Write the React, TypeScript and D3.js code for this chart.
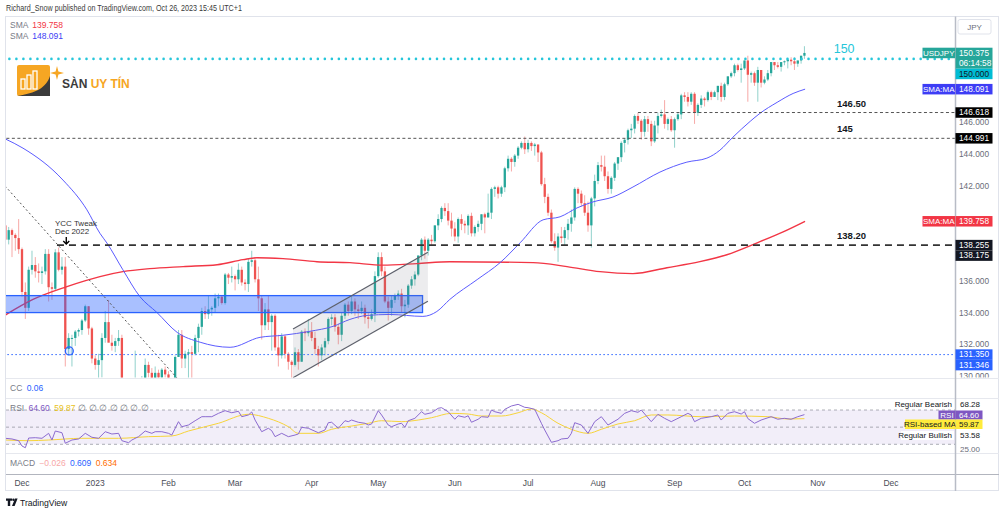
import React from "react";
import * as d3 from "d3";

// ---------- DATA ----------
// bar index 0 = 1 Dec 2022 (weekday bars); first candle = 24 Nov 2022
const FIRST_BAR = -5;

const opens = [
  139.5, 138.6, 139.2, 138.9, 138.7,
  138.0, 135.3, 134.3, 136.7, 137.0, 136.6, 136.5, 136.6, 137.7, 135.6, 135.5, 137.8, 136.7, 136.9, 131.7, 132.4, 132.4, 132.8, 132.9, 133.5, 134.4, 133.0,
  131.1, 130.7, 131.0, 132.4, 133.4, 132.1, 131.9, 132.2, 132.4, 129.2, 127.9, 128.5, 128.1, 128.9, 128.4, 129.6, 130.7, 130.2, 129.2, 130.2, 129.9, 130.4,
  130.1, 128.9, 128.6, 131.2, 132.6, 131.1, 131.4, 131.5, 131.4, 132.4, 133.1, 134.1, 133.9, 134.2, 134.3, 134.9, 135.0, 134.6, 136.4, 136.2,
  136.3, 136.1, 136.7, 135.9, 135.8, 137.2, 137.3, 136.1, 134.9, 133.2, 134.2, 133.4, 133.8, 131.8, 131.3, 132.5, 131.4, 130.9, 130.7, 131.5, 130.9, 132.8, 132.7,
  132.8, 132.4, 131.7, 131.3, 131.8, 132.2, 133.6, 133.7, 133.1, 132.6, 133.8, 134.5, 134.1, 134.7, 134.2, 134.1, 134.3, 133.7, 133.6, 133.9,
  136.3, 137.5, 136.6, 134.7, 134.3, 134.8, 135.1, 135.2, 134.4, 134.5, 135.7, 136.1, 136.4, 137.6, 138.6, 137.9, 138.6, 138.5, 139.5, 139.9, 140.6, 140.4, 139.8,
  139.3, 138.8, 139.9, 139.6, 139.5, 140.1, 139.0, 139.4, 139.6, 140.2, 140.0, 140.3, 141.8, 141.9, 141.5, 141.9, 143.1, 143.7, 143.5, 143.9, 144.4, 144.7,
  144.3, 144.7, 144.5, 144.6, 144.1, 142.1, 141.3, 140.3, 138.5, 138.1, 138.8, 138.7, 139.2, 139.6, 140.0, 141.8, 141.5, 140.9, 140.3, 139.5, 141.2,
  142.3, 143.3, 143.2, 142.6, 141.8, 142.5, 143.4, 143.8, 144.7, 144.9, 145.5, 145.6, 146.4, 146.1, 145.4, 146.2, 145.9, 144.8, 145.8, 146.4, 146.5, 145.9, 146.2,
  145.5, 146.2, 146.5, 147.7, 147.6, 147.3, 147.8, 146.6, 147.1, 147.5, 147.4, 147.9, 147.6, 147.9, 148.3, 147.6, 148.4, 148.9, 149.1, 149.6, 149.3,
  149.4, 149.9, 149.0, 149.1, 148.5, 149.3, 148.5, 148.7, 149.1, 149.8, 149.6, 149.5, 149.8, 149.85, 149.95, 149.85, 149.7, 149.9, 150.2,
];
const highs = [
  139.6, 139.4, 139.3, 139.0, 139.9,
  138.1, 135.9, 136.9, 137.9, 137.5, 137.1, 136.9, 138.0, 138.0, 135.9, 138.0, 138.1, 137.5, 137.5, 132.7, 132.6, 132.9, 133.0, 133.6, 134.5, 134.4, 133.1,
  131.3, 131.4, 132.7, 134.1, 134.8, 132.6, 132.4, 132.9, 132.6, 129.6, 128.9, 129.0, 131.6, 129.0, 130.0, 131.1, 130.9, 130.5, 130.6, 130.4, 130.5, 130.6,
  130.3, 129.0, 131.3, 132.9, 132.9, 131.6, 131.7, 131.9, 132.6, 133.3, 134.3, 134.4, 135.1, 134.4, 135.2, 135.2, 135.1, 136.5, 136.5, 136.9,
  136.4, 137.1, 136.9, 136.1, 137.4, 137.9, 137.5, 136.9, 135.1, 134.6, 135.1, 133.9, 133.9, 132.6, 132.7, 132.6, 131.5, 131.0, 131.8, 131.7, 132.9, 133.0, 133.6,
  133.4, 132.8, 131.9, 132.0, 132.4, 133.7, 133.9, 133.9, 133.3, 134.0, 134.6, 134.7, 135.1, 134.9, 134.5, 134.7, 134.5, 134.0, 134.2, 136.6,
  137.8, 137.8, 136.9, 135.0, 135.1, 135.2, 135.4, 135.5, 134.8, 135.8, 136.3, 136.6, 137.6, 138.7, 138.8, 138.7, 138.9, 139.5, 140.2, 140.7, 140.9, 140.9, 140.3,
  139.7, 140.0, 140.2, 139.8, 140.2, 140.3, 139.5, 139.8, 140.2, 140.3, 141.5, 141.9, 142.0, 142.0, 142.0, 143.2, 143.9, 143.8, 144.0, 144.5, 144.8, 145.1,
  144.9, 144.8, 144.7, 144.6, 144.2, 142.5, 141.5, 140.5, 139.0, 139.0, 139.4, 139.4, 139.9, 140.5, 141.9, 141.9, 141.7, 141.4, 141.0, 141.3, 142.7,
  143.5, 143.9, 143.9, 142.9, 142.6, 143.5, 143.8, 144.8, 145.0, 145.6, 145.9, 146.5, 146.6, 146.2, 146.4, 146.4, 146.1, 146.1, 146.6, 146.8, 147.4, 146.3, 146.4,
  146.3, 146.6, 147.8, 147.9, 147.9, 147.9, 147.9, 147.2, 147.7, 147.6, 148.0, 148.0, 148.0, 148.3, 148.5, 148.5, 148.9, 149.2, 149.7, 149.7, 149.7,
  149.9, 150.2, 149.2, 149.2, 149.5, 149.3, 148.9, 149.3, 149.8, 149.8, 149.8, 149.8, 149.9, 150.0, 150.1, 150.1, 149.9, 150.2, 150.8,
];
const lows = [
  138.0, 138.3, 137.5, 137.9, 137.7,
  135.0, 133.6, 134.1, 136.4, 136.2, 135.9, 135.8, 136.4, 134.7, 134.8, 135.4, 136.6, 136.4, 130.6, 131.3, 130.6, 131.9, 132.5, 132.6, 133.4, 132.6, 130.8,
  130.4, 129.5, 129.9, 132.1, 132.3, 131.6, 131.5, 131.9, 128.9, 127.5, 127.2, 127.9, 127.8, 127.6, 128.0, 129.3, 129.9, 129.2, 129.0, 129.6, 129.6, 129.9,
  128.6, 128.1, 128.2, 131.2, 130.5, 130.5, 129.8, 129.8, 131.3, 131.5, 132.6, 133.6, 133.6, 133.8, 134.0, 134.4, 134.5, 134.5, 135.8, 135.9,
  135.4, 135.8, 135.7, 135.4, 135.3, 136.9, 135.9, 134.1, 132.3, 132.9, 132.9, 131.6, 131.6, 130.6, 131.1, 131.1, 130.4, 129.6, 130.6, 130.4, 130.9, 132.2, 132.5,
  132.2, 131.4, 130.6, 131.0, 131.3, 132.0, 133.2, 132.8, 132.0, 132.2, 133.6, 133.8, 133.9, 133.8, 133.6, 133.9, 133.3, 133.0, 133.5, 133.4,
  136.2, 136.3, 134.6, 133.5, 133.8, 134.6, 134.8, 134.0, 133.7, 134.3, 135.5, 135.7, 136.3, 137.3, 137.4, 137.6, 138.2, 138.4, 139.2, 139.7, 140.1, 139.5, 138.8,
  138.5, 138.4, 139.2, 139.0, 138.9, 138.8, 138.8, 139.1, 139.2, 139.0, 140.0, 139.9, 141.3, 141.2, 141.3, 141.6, 142.9, 142.9, 143.2, 143.7, 144.3, 144.0,
  144.1, 144.2, 143.9, 143.5, 142.0, 140.9, 140.1, 138.4, 137.9, 137.2, 138.4, 138.2, 138.6, 139.1, 139.8, 140.9, 140.7, 140.1, 139.1, 138.1, 140.7,
  142.1, 142.9, 142.3, 141.5, 141.5, 142.3, 143.0, 143.5, 144.1, 144.6, 145.0, 145.3, 145.9, 144.9, 145.1, 145.4, 144.5, 144.7, 145.3, 146.3, 145.6, 145.5, 145.4,
  144.4, 146.1, 146.2, 147.3, 147.0, 147.1, 145.9, 146.4, 146.9, 147.0, 147.3, 147.4, 147.6, 147.4, 147.3, 147.4, 148.3, 148.8, 148.9, 149.2, 148.5,
  149.3, 147.3, 148.5, 148.3, 147.3, 148.2, 148.4, 148.6, 148.9, 149.3, 149.4, 149.2, 149.6, 149.4, 149.6, 149.3, 149.5, 149.7, 150.0,
];
const closes = [
  138.6, 139.2, 138.9, 138.7, 138.0,
  135.3, 134.3, 136.7, 137.0, 136.6, 136.5, 136.6, 137.7, 135.6, 135.5, 137.8, 136.7, 136.9, 131.7, 132.4, 132.4, 132.8, 132.9, 133.5, 134.4, 133.0, 131.1,
  130.7, 131.0, 132.4, 133.4, 132.1, 131.9, 132.2, 132.4, 129.2, 127.9, 128.5, 128.1, 128.9, 128.4, 129.6, 130.7, 130.2, 129.2, 130.2, 129.9, 130.4, 130.1,
  128.9, 128.6, 131.2, 132.6, 131.1, 131.4, 131.5, 131.4, 132.4, 133.1, 134.1, 133.9, 134.2, 134.3, 134.9, 135.0, 134.6, 136.4, 136.2, 136.3,
  136.1, 136.7, 135.9, 135.8, 137.2, 137.3, 136.1, 134.9, 133.2, 134.2, 133.4, 133.8, 131.8, 131.3, 132.5, 131.4, 130.9, 130.7, 131.5, 130.9, 132.8, 132.7, 132.8,
  132.4, 131.7, 131.3, 131.8, 132.2, 133.6, 133.7, 133.1, 132.6, 133.8, 134.5, 134.1, 134.7, 134.2, 134.1, 134.3, 133.7, 133.6, 133.9, 136.3,
  137.5, 136.6, 134.7, 134.3, 134.8, 135.1, 135.2, 134.4, 134.5, 135.7, 136.1, 136.4, 137.6, 138.6, 137.9, 138.6, 138.5, 139.5, 139.9, 140.6, 140.4, 139.8, 139.3,
  138.8, 139.9, 139.6, 139.5, 140.1, 139.0, 139.4, 139.6, 140.2, 140.0, 140.3, 141.8, 141.9, 141.5, 141.9, 143.1, 143.7, 143.5, 143.9, 144.4, 144.7, 144.3,
  144.7, 144.5, 144.6, 144.1, 142.1, 141.3, 140.3, 138.5, 138.1, 138.8, 138.7, 139.2, 139.6, 140.0, 141.8, 141.5, 140.9, 140.3, 139.5, 141.2, 142.3,
  143.3, 143.2, 142.6, 141.8, 142.5, 143.4, 143.8, 144.7, 144.9, 145.5, 145.6, 146.4, 146.1, 145.4, 146.2, 145.9, 144.8, 145.8, 146.4, 146.5, 145.9, 146.2, 145.5,
  146.2, 146.5, 147.7, 147.6, 147.3, 147.8, 146.6, 147.1, 147.5, 147.4, 147.9, 147.6, 147.9, 148.3, 147.6, 148.4, 148.9, 149.1, 149.6, 149.3, 149.4,
  149.9, 149.0, 149.1, 148.5, 149.3, 148.5, 148.7, 149.1, 149.8, 149.6, 149.5, 149.8, 149.85, 149.95, 149.85, 149.7, 149.9, 150.2, 150.375,
];

// SMA 50 (blue): [bar, price]
const sma50: [number, number][] = [
  [-5, 144.95], [0.3, 144.37], [12.3, 142.36], [19.5, 140.48], [23.4, 139.0], [25.5, 138.39], [30.3, 136.7], [35.4, 135.01],
  [40.5, 134.01], [46.6, 132.75], [53.5, 132.13], [62.5, 131.81], [71.5, 132.44], [78.4, 132.57], [86.5, 132.82],
  [93.4, 133.13], [98.5, 133.57], [103.6, 133.82], [110.5, 133.88], [120.4, 133.76], [124.6, 134.07], [128.5, 134.83],
  [136.7, 136.08], [143.6, 137.15], [149.6, 138.4], [156.5, 139.85], [161.6, 140.04], [166.7, 140.6], [171.5, 140.98],
  [177.5, 141.29], [183.5, 141.92], [191.6, 142.86], [199.7, 143.49], [205.7, 143.74], [209.6, 144.24], [213.5, 145.06],
  [218.7, 146.06], [221.6, 146.56], [226.8, 147.26], [231.6, 147.82], [235.2, 148.091],
];
// SMA 200 (red)
const sma200: [number, number][] = [
  [-5, 133.85], [3.3, 134.83], [13.5, 135.64], [23.4, 136.27], [30.3, 136.58], [38.4, 136.77], [48.4, 136.9],
  [58.6, 137.02], [66.4, 137.34], [70.6, 137.46], [78.4, 137.4], [88.6, 137.21], [98.5, 137.15], [108.4, 136.99],
  [118.6, 137.09], [128.5, 137.21], [153.5, 137.15], [163.7, 136.9], [173.6, 136.58], [183.5, 136.46], [193.7, 136.83],
  [203.6, 137.21], [211.7, 137.65], [220.8, 138.4], [228.6, 139.09], [235.2, 139.758],
];
// RSI (14): [bar, value]
const rsi: [number, number][] = [
  [-5, 37.0], [-3, 36.2], [-1, 34.2], [0, 28.0], [1, 26.0], [2, 37.3], [4, 37.7], [6, 37.0], [8, 42.8], [9, 35.0], [10, 45.5],
  [12, 43.5], [13, 31.2], [15, 35.0], [17, 36.2], [19, 42.8], [21, 38.2], [23, 37.0], [25, 44.7], [27, 42.0], [29, 42.8],
  [30, 34.2], [32, 31.9], [33, 35.0], [35, 38.9], [37, 45.5], [39, 42.8], [40, 44.7], [42, 44.7], [44, 42.8], [45, 40.8],
  [47, 56.4], [48, 50.5], [50, 52.5], [52, 57.5], [54, 62.2], [55, 62.2], [57, 62.2], [59, 66.1], [61, 69.2], [63, 66.8],
  [65, 68.5], [66, 62.2], [68, 64.2], [69, 67.7], [70, 58.3], [72, 44.7], [74, 48.7], [75, 45.9], [76, 38.9], [78, 42.8],
  [80, 38.9], [82, 40.8], [83, 42.0], [84, 49.8], [86, 48.7], [89, 43.5], [91, 46.7], [92, 55.2], [93, 55.7], [95, 48.7],
  [97, 57.5], [98, 56.4], [99, 58.3], [101, 55.7], [103, 54.5], [104, 52.5], [105, 53.7], [107, 69.2], [108, 64.2],
  [110, 52.5], [111, 50.5], [113, 53.7], [114, 54.5], [115, 49.8], [116, 57.5], [118, 60.3], [120, 68.0], [121, 65.0],
  [123, 66.8], [125, 72.0], [126, 72.7], [128, 68.0], [130, 59.2], [131, 63.3], [133, 61.5], [134, 63.3], [135, 55.7],
  [137, 59.2], [138, 62.2], [140, 61.5], [141, 70.0], [142, 68.0], [144, 66.1], [145, 70.8], [147, 74.7], [149, 76.6],
  [151, 73.1], [152, 72.7], [154, 70.8], [156, 54.5], [157, 46.7], [159, 32.3], [161, 34.2], [162, 36.2], [164, 37.0],
  [165, 42.8], [166, 55.2], [168, 52.5], [170, 42.8], [172, 56.4], [174, 62.2], [176, 52.5], [179, 59.2], [181, 66.1],
  [183, 69.2], [185, 67.3], [186, 70.0], [189, 56.4], [191, 65.0], [193, 60.3], [195, 56.4], [198, 62.2], [200, 66.1],
  [201, 64.2], [202, 56.4], [204, 60.3], [207, 62.2], [209, 64.2], [210, 58.3], [212, 66.1], [214, 68.0], [216, 65.3],
  [217, 68.0], [218, 60.0], [220, 54.5], [222, 58.3], [225, 62.2], [227, 59.2], [229, 60.3], [231, 59.2], [233, 62.2],
  [235, 64.6],
];
// RSI-based MA (yellow)
const rsiMa: [number, number][] = [
  [-5, 35.0], [2, 34.2], [8, 35.0], [18, 37.0], [29, 37.0], [38, 38.9], [45, 39.7], [50, 45.5], [59, 54.5], [68, 65.0],
  [74, 60.3], [80, 50.5], [83, 42.8], [89, 42.8], [93, 47.5], [99, 51.3], [104, 54.5], [108, 57.5], [114, 56.4],
  [119, 58.3], [123, 61.0], [129, 66.1], [134, 65.3], [138, 63.0], [144, 63.0], [149, 66.8], [153, 71.2], [156, 66.8],
  [161, 54.5], [165, 47.5], [170, 42.8], [174, 47.5], [179, 53.7], [184, 57.5], [189, 64.2], [194, 64.2], [204, 62.2],
  [214, 63.0], [224, 62.2], [230, 59.5], [235, 59.87],
];

const priceTicks = [130, 132, 134, 136, 138, 140, 142, 144, 146, 148, 150];
const rsiLevels = [70, 50, 30];

const priceLabels = [
  { price: 150.375, text: "150.375", sub: "06:14:58", bg: "#26a69a", fg: "#ffffff", tag: "USDJPY" },
  { price: 150.0, text: "150.000", bg: "#00bcd4", fg: "#131722" },
  { price: 148.091, text: "148.091", bg: "#3d3df5", fg: "#ffffff", tag: "SMA:MA" },
  { price: 146.618, text: "146.618", bg: "#000000", fg: "#ffffff" },
  { price: 144.991, text: "144.991", bg: "#000000", fg: "#ffffff" },
  { price: 139.758, text: "139.758", bg: "#f23645", fg: "#ffffff", tag: "SMA:MA" },
  { price: 138.255, text: "138.255", bg: "#131722", fg: "#ffffff" },
  { price: 138.175, text: "138.175", bg: "#131722", fg: "#ffffff" },
  { price: 131.35, text: "131.350", bg: "#2962ff", fg: "#ffffff" },
  { price: 131.346, text: "131.346", bg: "#2962ff", fg: "#ffffff" },
];

// drawings
const zone = { fromBar: -12, toBar: 120.3, top: 135.07, bottom: 134.0 };
const channel = { b1: 81.4, p1: 132.97, b2: 121.9, p2: 137.8, offset: 3.08 };
const trendDiag = { b1: -6, p1: 142.2, b2: 52, p2: 128.6 };
const circle = { bar: 14.2, price: 131.58 };
const levels = [
  { price: 150.0, from: -8, kind: "cyan", label: "150" },
  { price: 146.618, from: 185, kind: "thin", label: "146.50" },
  { price: 144.991, from: -8, kind: "thin", label: "145" },
  { price: 138.255, from: 10.5, kind: "thick", label: "138.20" },
  { price: 131.35, from: -8, kind: "blue", label: "" },
];

// ---------- LAYOUT ----------
const PL = 6, PR = 955, MT = 17, MB = 377.5;
const xScale = d3.scaleLinear().domain([0, 261]).range([22, 891]);
const yScale = d3.scaleLinear().domain([130, 150]).range([376, 58.9]);
const rsiScale = d3.scaleLinear().domain([30, 70]).range([444.3, 410]);
const FONT = "'Liberation Sans', Arial, sans-serif";
const UP = "#26a69a", DOWN = "#ef5350";

export default function App() {
  const days = d3.timeDay
    .range(new Date(2022, 10, 24), new Date(2023, 11, 31))
    .filter((d) => d.getDay() !== 0 && d.getDay() !== 6);
  const monthTicks = days
    .map((d, i) => ({ d, bar: i + FIRST_BAR }))
    .filter((t, i, arr) => i > 0 && t.d.getMonth() !== arr[i - 1].d.getMonth());

  const candles = opens.map((o, i) => ({ bar: i + FIRST_BAR, o, h: highs[i], l: lows[i], c: closes[i] }));

  const priceLine = d3.line<[number, number]>().x((d) => xScale(d[0])).y((d) => yScale(d[1])).curve(d3.curveMonotoneX);
  const rsiLine = d3.line<[number, number]>().x((d) => xScale(d[0])).y((d) => rsiScale(d[1]));
  const rsiMaLine = d3.line<[number, number]>().x((d) => xScale(d[0])).y((d) => rsiScale(d[1])).curve(d3.curveMonotoneX);

  const boxH = 10.5;
  let prevBottom = -Infinity;
  const placed = priceLabels
    .slice()
    .sort((a, b) => b.price - a.price)
    .map((l) => {
      const h = l.sub ? boxH * 2 : boxH;
      const top = Math.max(yScale(l.price) - boxH / 2, prevBottom);
      prevBottom = top + h;
      return { ...l, top, h };
    });
  // axis tick labels that are not covered by a value box
  const visibleTicks = priceTicks.filter((p) => {
    const y = yScale(p);
    return !placed.some((b) => y + 4 > b.top && y - 4 < b.top + b.h);
  });

  const chPoly = [
    [xScale(channel.b1), yScale(channel.p1)],
    [xScale(channel.b2), yScale(channel.p2)],
    [xScale(channel.b2), yScale(channel.p2 - channel.offset)],
    [xScale(channel.b1), yScale(channel.p1 - channel.offset)],
  ];

  const ycc = levels[3];
  const yccX = xScale(13.3);

  return (
    <svg width={1000} height={513} style={{ position: "absolute", left: 0, top: 0, background: "#fff" }} fontFamily={FONT}>
      <defs>
        <clipPath id="mainClip"><rect x={PL} y={MT} width={PR - PL} height={MB - MT} /></clipPath>
        <clipPath id="axisClip"><rect x={PR} y={MT} width={45} height={MB - MT} /></clipPath>
        <clipPath id="rsiClip"><rect x={PL} y={399} width={PR - PL} height={54} /></clipPath>
      </defs>
      <rect x={0} y={0} width={1000} height={513} fill="#ffffff" />

      {/* header */}
      <text x={6} y={11} fontSize={8.3} fill="#3a3a3a" textLength={236} lengthAdjust="spacingAndGlyphs">
        Richard_Snow published on TradingView.com, Oct 26, 2023 15:45 UTC+1
      </text>

      {/* frame and pane separators */}
      <rect x={5.5} y={16.5} width={993} height={474} fill="none" stroke="#e0e3eb" />
      <line x1={PL} x2={999} y1={378.5} y2={378.5} stroke="#e6e8ee" />
      <line x1={PL} x2={999} y1={398.5} y2={398.5} stroke="#e6e8ee" />
      <line x1={PL} x2={999} y1={453.5} y2={453.5} stroke="#e6e8ee" />
      <line x1={PL} x2={999} y1={474.5} y2={474.5} stroke="#b2b5be" />

      {/* main pane */}
      <g clipPath="url(#mainClip)">
        {/* candles */}
        {candles.map((k) => {
          const x = xScale(k.bar);
          const col = k.c >= k.o ? UP : DOWN;
          const yT = yScale(Math.max(k.o, k.c));
          const yB = yScale(Math.min(k.o, k.c));
          return (
            <g key={k.bar}>
              <line x1={x} x2={x} y1={yScale(k.h)} y2={yScale(k.l)} stroke={col} strokeOpacity={0.5} strokeWidth={1} />
              <rect x={x - 1.15} y={yT} width={2.3} height={Math.max(1, yB - yT)} fill={col} />
            </g>
          );
        })}

        {/* SMA lines */}
        <path d={priceLine(sma200) || ""} fill="none" stroke="#f23645" strokeWidth={1.4} />
        <path d={priceLine(sma50) || ""} fill="none" stroke="#5b5bff" strokeWidth={1} />

        {/* support zone */}
        <rect
          x={xScale(zone.fromBar)} y={yScale(zone.top)}
          width={xScale(zone.toBar) - xScale(zone.fromBar)} height={yScale(zone.bottom) - yScale(zone.top)}
          fill="#2962ff" fillOpacity={0.4} stroke="#2962ff" strokeWidth={1.3}
        />

        {/* parallel channel */}
        <polygon points={chPoly.map((p) => p.join(",")).join(" ")} fill="#787b86" fillOpacity={0.14} />
        <line x1={chPoly[0][0]} y1={chPoly[0][1]} x2={chPoly[1][0]} y2={chPoly[1][1]} stroke="#5d606b" strokeWidth={1.2} />
        <line x1={chPoly[3][0]} y1={chPoly[3][1]} x2={chPoly[2][0]} y2={chPoly[2][1]} stroke="#5d606b" strokeWidth={1.2} />

        {/* diagonal dotted trend line */}
        <line
          x1={xScale(trendDiag.b1)} y1={yScale(trendDiag.p1)} x2={xScale(trendDiag.b2)} y2={yScale(trendDiag.p2)}
          stroke="#555" strokeWidth={1} strokeDasharray="2 2.5"
        />

        {/* horizontal levels */}
        {levels.map((lv, i) => {
          const y = yScale(lv.price);
          const x1 = xScale(lv.from);
          if (lv.kind === "cyan")
            return <line key={i} x1={x1} x2={PR} y1={y} y2={y} stroke="#26c6da" strokeWidth={2.6} strokeDasharray="0.01 7" strokeLinecap="round" />;
          if (lv.kind === "thin")
            return <line key={i} x1={x1} x2={PR} y1={y} y2={y} stroke="#555" strokeWidth={1} strokeDasharray="3 2.5" />;
          if (lv.kind === "thick")
            return <line key={i} x1={x1} x2={PR} y1={y} y2={y} stroke="#333" strokeWidth={1.8} strokeDasharray="7 5" />;
          return <line key={i} x1={x1} x2={PR} y1={y} y2={y} stroke="#2962ff" strokeWidth={1} strokeDasharray="1.5 2.5" />;
        })}

        {/* level labels */}
        {levels.filter((l) => l.label).map((lv, i) => (
          <text
            key={i} x={lv.kind === "cyan" ? xScale(243.8) : xScale(244.8)} y={yScale(lv.price) - 6}
            fontSize={lv.kind === "cyan" ? 12.5 : 9.5} fontWeight={lv.kind === "cyan" ? 400 : 600}
            fill={lv.kind === "cyan" ? "#26c6da" : "#131722"}
          >
            {lv.label}
          </text>
        ))}

        {/* circle marker */}
        <circle cx={xScale(circle.bar)} cy={yScale(circle.price)} r={4} fill="#2962ff" fillOpacity={0.15} stroke="#2962ff" strokeWidth={1.3} />

        {/* YCC annotation */}
        <text x={xScale(9.9)} y={yScale(ycc.price) - 19} fontSize={8} fill="#333">YCC Tweak</text>
        <text x={xScale(9.9)} y={yScale(ycc.price) - 11} fontSize={8} fill="#333">Dec 2022</text>
        <line x1={yccX} x2={yccX} y1={yScale(ycc.price) - 8} y2={yScale(ycc.price) - 1} stroke="#000" strokeWidth={1.4} />
        <path d={`M${yccX - 3},${yScale(ycc.price) - 4} L${yccX},${yScale(ycc.price) - 1} L${yccX + 3},${yScale(ycc.price) - 4}`} fill="none" stroke="#000" strokeWidth={1.4} />
      </g>

      {/* legend */}
      <text x={10} y={28} fontSize={8.5} fill="#787b86">SMA <tspan fill="#f23645" dx={2}>139.758</tspan></text>
      <text x={10} y={38.5} fontSize={8.5} fill="#787b86">SMA <tspan fill="#3d3df5" dx={2}>148.091</tspan></text>

      {/* watermark logo */}
      <g>
        <rect x={17} y={65} width={33} height={31} rx={2} fill="#f6a623" />
        <rect x={21} y={79} width={4} height={10} fill="none" stroke="#fff" strokeWidth={1.3} />
        <rect x={27} y={75} width={4} height={14} fill="none" stroke="#fff" strokeWidth={1.3} />
        <rect x={33} y={71} width={4} height={18} fill="none" stroke="#fff" strokeWidth={1.3} />
        <path d="M17,96 L50,96 L50,76 C46,88 36,93 17,96 Z" fill="#3b3b3b" />
        <path d="M57,66 L58.4,71.6 L64,73 L58.4,74.4 L57,80 L55.6,74.4 L50,73 L55.6,71.6 Z" fill="#f6a623" />
        <text x={62} y={88} fontSize={12} fontWeight={700} fill="#3b3b3b">SÀN <tspan fill="#f6a623">UY TÍN</tspan></text>
      </g>

      {/* right price axis */}
      <line x1={955.5} x2={955.5} y1={16.5} y2={491} stroke="#b8bcc6" strokeWidth={1.5} />
      <rect x={958} y={19.5} width={33} height={14.5} rx={2} fill="#fff" stroke="#e0e3eb" />
      <text x={974.5} y={29.5} fontSize={8} fill="#6a6d78" textAnchor="middle">JPY</text>
      <g clipPath="url(#axisClip)">
        {visibleTicks.map((p) => (
          <text key={p} x={959} y={yScale(p) + 3} fontSize={8.3} fill="#6a6d78">{p.toFixed(3)}</text>
        ))}
      </g>
      {placed.map((l, i) => (
        <g key={i}>
          <rect x={955.5} y={l.top} width={37} height={l.h} fill={l.bg} />
          <text x={959} y={l.top + 8} fontSize={8.3} fill={l.fg}>{l.text}</text>
          {l.sub && <text x={959} y={l.top + 18.5} fontSize={8.3} fill={l.fg}>{l.sub}</text>}
          {l.tag && (
            <g>
              <rect x={922.5} y={l.top} width={32.5} height={boxH} fill={l.bg} />
              <text x={938.7} y={l.top + 8} fontSize={8} fill="#fff" textAnchor="middle">{l.tag}</text>
            </g>
          )}
        </g>
      ))}

      {/* CC pane */}
      <text x={10} y={390.5} fontSize={8.5} fill="#787b86">CC <tspan fill="#2962ff" dx={2}>0.06</tspan></text>

      {/* RSI pane */}
      <rect x={PL} y={rsiScale(70)} width={PR - PL} height={rsiScale(30) - rsiScale(70)} fill="#7e57c2" fillOpacity={0.1} />
      {rsiLevels.map((lv) => (
        <line key={lv} x1={PL} x2={PR} y1={rsiScale(lv)} y2={rsiScale(lv)} stroke="#787b86" strokeOpacity={0.6} strokeDasharray="3 3" />
      ))}
      <g clipPath="url(#rsiClip)">
        <path d={rsiMaLine(rsiMa) || ""} fill="none" stroke="#f7d43a" strokeWidth={1} />
        <path d={rsiLine(rsi) || ""} fill="none" stroke="#8c6bd0" strokeWidth={1} />
      </g>
      <text x={10} y={411} fontSize={8.5} fill="#787b86">
        RSI <tspan fill="#7e57c2" dx={2}>64.60</tspan> <tspan fill="#e8c21a" dx={2}>59.87</tspan>
        <tspan dx={3}>∅ ∅ ∅ ∅ ∅ ∅ ∅</tspan>
      </text>
      <rect x={899} y={400} width={55} height={9} fill="#fff" />
      <text x={952} y={407.2} fontSize={8} fill="#131722" textAnchor="end">Regular Bearish</text>
      <text x={960} y={407.2} fontSize={8} fill="#131722">68.28</text>
      <rect x={938.5} y={410.5} width={17} height={9} fill="#7e57c2" />
      <text x={947} y={417.7} fontSize={8} fill="#fff" textAnchor="middle">RSI</text>
      <rect x={955.5} y={410.5} width={27} height={9} fill="#7e57c2" />
      <text x={959} y={417.7} fontSize={8} fill="#fff">64.60</text>
      <rect x={905} y={419.5} width={50.5} height={9.5} fill="#ffeb3b" />
      <text x={930} y={427} fontSize={8} fill="#131722" textAnchor="middle">RSI-based MA</text>
      <rect x={955.5} y={419.5} width={27} height={9.5} fill="#ffeb3b" />
      <text x={959} y={427} fontSize={8} fill="#131722">59.87</text>
      <rect x={901} y={431} width={53} height={9} fill="#fff" />
      <text x={952} y={438.2} fontSize={8} fill="#131722" textAnchor="end">Regular Bullish</text>
      <text x={960} y={438.2} fontSize={8} fill="#131722">53.58</text>
      <text x={960} y={452} fontSize={8} fill="#6a6d78">25.00</text>

      {/* MACD pane */}
      <text x={10} y={466} fontSize={8.5} fill="#787b86">
        MACD <tspan fill="#f7a8a8" dx={2}>−0.026</tspan> <tspan fill="#2962ff" dx={2}>0.609</tspan> <tspan fill="#ff6d00" dx={2}>0.634</tspan>
      </text>

      {/* time axis */}
      {monthTicks.map((t, i) => (
        <text key={i} x={xScale(t.bar)} y={486} fontSize={8.5} fill="#4a4d57" textAnchor="middle">
          {t.d.getMonth() === 0 ? d3.timeFormat("%Y")(t.d) : d3.timeFormat("%b")(t.d)}
        </text>
      ))}

      {/* TradingView logo */}
      <g fill="#131722">
        <path d="M6,498.5 h6 v2.3 h-1.8 v5.2 h-2.4 v-5.2 h-1.8 z" />
        <circle cx={13.4} cy={499.7} r={1.2} />
        <path d="M15,498.5 h2.6 l-3,7.5 h-2.6 z" />
        <text x={20} y={506} fontSize={8.6} fill="#131722">TradingView</text>
      </g>
    </svg>
  );
}
